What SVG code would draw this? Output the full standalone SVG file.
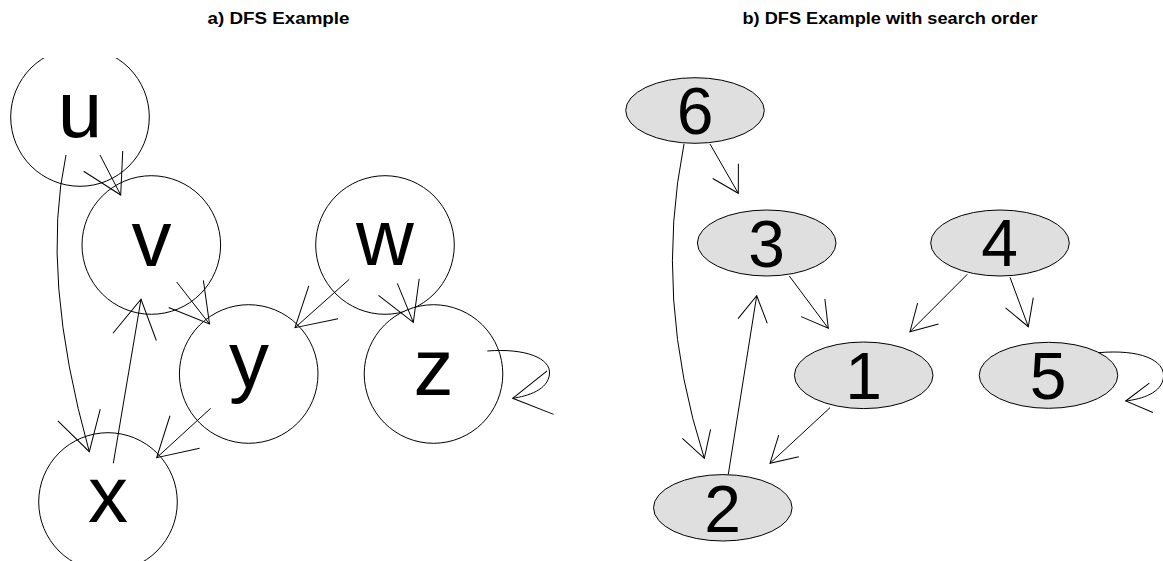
<svg xmlns="http://www.w3.org/2000/svg" width="1163" height="561" viewBox="0 0 1163 561">
<style>
.node{fill:#ffffff;stroke:#000;stroke-width:1}
.onode{fill:#dfdfdf;stroke:#000;stroke-width:1}
.lbl{font-family:"Liberation Sans",Arial,sans-serif;font-size:80px;fill:#000;text-anchor:middle}
.dlbl{font-family:"Liberation Sans",Arial,sans-serif;font-size:66px;fill:#000;text-anchor:middle}
.title{font-family:"Liberation Sans",Arial,sans-serif;font-size:16.3px;font-weight:bold;fill:#000;text-anchor:middle}
.e{fill:none;stroke:#000;stroke-width:1}
.ea{fill:none;stroke:#000;stroke-width:1;marker-end:url(#big)}
.eb{fill:none;stroke:#000;stroke-width:1;marker-end:url(#small)}
</style>
<defs>
<marker id="big" markerUnits="userSpaceOnUse" orient="auto" refX="0" refY="0" markerWidth="44" markerHeight="50" viewBox="-42 -25 44 50">
<path d="M-38.1,-22 L0,0 L-38.1,22" fill="none" stroke="#000" stroke-width="1"/>
</marker>
<marker id="small" markerUnits="userSpaceOnUse" orient="auto" refX="0" refY="0" markerWidth="32" markerHeight="36" viewBox="-30 -18 32 36">
<path d="M-25.6,-14.8 L0,0 L-25.6,14.8" fill="none" stroke="#000" stroke-width="1"/>
</marker>
<clipPath id="clipA"><rect x="0" y="58" width="600" height="503"/></clipPath>
</defs>
<rect x="0" y="0" width="1163" height="561" fill="#ffffff"/>
<text class="title" x="278.5" y="24" textLength="142" lengthAdjust="spacingAndGlyphs">a) DFS Example</text>
<text class="title" x="890" y="24" textLength="295" lengthAdjust="spacingAndGlyphs">b) DFS Example with search order</text>

<g id="panelA" clip-path="url(#clipA)">
<g id="node-u"><circle class="node" cx="80" cy="117" r="69.3"/><text class="lbl" x="80" y="137">u</text></g>
<g id="node-v"><circle class="node" cx="151.3" cy="245" r="69.3"/><text class="lbl" x="151.5" y="266">v</text></g>
<g id="node-w"><circle class="node" cx="385" cy="245" r="69.3"/><text class="lbl" x="385" y="265">w</text></g>
<g id="node-y"><circle class="node" cx="248.7" cy="374" r="69.3"/><text class="lbl" x="249" y="386.5">y</text></g>
<g id="node-z"><circle class="node" cx="433.5" cy="374" r="69.3"/><text class="lbl" x="433.5" y="395">z</text></g>
<g id="node-x"><circle class="node" cx="108" cy="502" r="69.3"/><text class="lbl" x="108" y="522.3">x</text></g>
<g id="edgesA">
<path class="ea" d="M100,155 L120.7,195"/>
<path class="ea" d="M66,155 Q40,275 89.3,451.7"/>
<path class="ea" d="M113.3,463.3 L141,299.3"/>
<path class="ea" d="M176.7,282 L209.5,324"/>
<path class="ea" d="M349.3,279.3 L295,327.7"/>
<path class="ea" d="M397.3,283.3 L413.3,322.3"/>
<path class="ea" d="M487.3,351 C525,348 551,358 549.5,374 C548,390 528,396 512.7,398.3"/>
<path class="ea" d="M210.7,408.3 L156.7,457.7"/>
</g>
</g>

<g id="panelB">
<g id="node-6"><ellipse class="onode" cx="695" cy="110.5" rx="69.3" ry="32.8"/><text class="dlbl" x="695" y="134">6</text></g>
<g id="node-3"><ellipse class="onode" cx="766.7" cy="243" rx="69.3" ry="33"/><text class="dlbl" x="766.7" y="266.5">3</text></g>
<g id="node-4"><ellipse class="onode" cx="1000" cy="243" rx="69.3" ry="33"/><text class="dlbl" x="999.5" y="266">4</text></g>
<g id="node-1"><ellipse class="onode" cx="863.7" cy="375.3" rx="69.3" ry="33.3"/><text class="dlbl" x="863.7" y="399">1</text></g>
<g id="node-5"><ellipse class="onode" cx="1048.5" cy="375.3" rx="69.3" ry="33"/><text class="dlbl" x="1048" y="399">5</text></g>
<g id="node-2"><ellipse class="onode" cx="722.8" cy="507.8" rx="69.3" ry="33.2"/><text class="dlbl" x="722.7" y="531.5">2</text></g>
<g id="edgesB">
<path class="eb" d="M710,144 L738.3,193.3"/>
<path class="eb" d="M684,144 Q653.2,298.85 704.3,458.3"/>
<path class="eb" d="M728.3,474.3 L756.7,295.7"/>
<path class="eb" d="M789.3,276 L828.3,328.3"/>
<path class="eb" d="M967.3,274.3 L910,331.7"/>
<path class="eb" d="M1010,277.3 L1028.3,326.7"/>
<path class="eb" d="M1098.3,352.7 C1140,349 1165,360 1163.5,377 C1162,393 1142,399 1125.7,401"/>
<path class="eb" d="M830,407.7 L770,463.3"/>
</g>
</g>
</svg>
